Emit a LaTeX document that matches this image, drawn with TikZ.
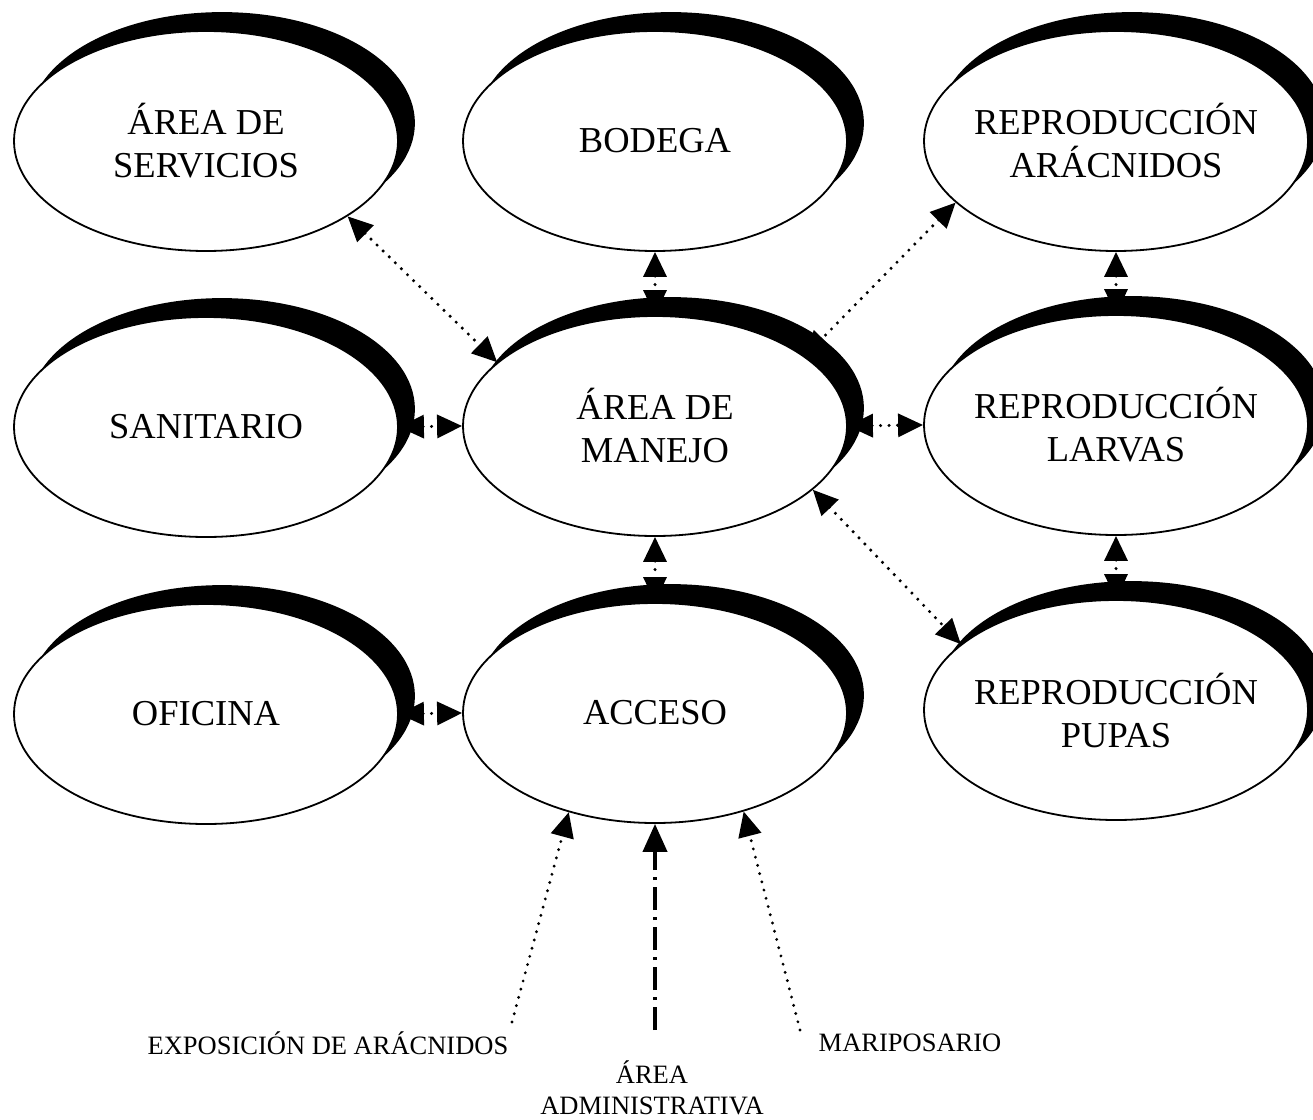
\documentclass[tikz,border=0pt]{standalone}
\usepackage{fontspec}
\setmainfont{Liberation Serif}
\usetikzlibrary{arrows.meta,shapes.geometric}
\begin{document}
\begin{tikzpicture}[x=1pt,y=-1pt,
  ell/.style={ellipse, draw=black, fill=white, line width=1.8pt, minimum width=384pt, minimum height=220pt, inner sep=0pt},
  shd/.style={ellipse, draw=black, fill=black, line width=1.8pt, minimum width=384pt, minimum height=220pt, inner sep=0pt, xshift=16pt, yshift=18pt},
  lbl/.style={font=\fontsize{36.5}{43}\selectfont, align=center, inner sep=0pt},
  small/.style={font=\fontsize{26.5}{31}\selectfont, align=center, inner sep=0pt},
  con/.style={line width=3.4pt, dash pattern=on 0pt off 8.5pt, line cap=round, {Triangle[length=25pt,width=23pt]}-{Triangle[length=25pt,width=23pt]}},
  one/.style={line width=3.2pt, dash pattern=on 0pt off 8.5pt, line cap=round, -{Triangle[length=25pt,width=23pt]}},
  adm/.style={line width=4pt, dash pattern=on 23pt off 7pt on 3pt off 7pt, -{Triangle[length=28pt,width=24pt]}}
]
\clip (0,0) rectangle (1313,1119);
\fill[white] (0,0) rectangle (1313,1119);

% ellipses with crescent shadows
\node[shd] (servicios-s) at (206,141) {};
\node[ell] (servicios) at (206,141) {};
\node[lbl] (servicios-t) at (servicios) {ÁREA DE\\SERVICIOS};

\node[shd] (bodega-s) at (655,141) {};
\node[ell] (bodega) at (655,141) {};
\node[lbl] (bodega-t) at (bodega) {BODEGA};

\node[shd] (aracnidos-s) at (1116,141) {};
\node[ell] (aracnidos) at (1116,141) {};
\node[lbl] (aracnidos-t) at (aracnidos) {REPRODUCCIÓN\\ARÁCNIDOS};

\node[shd] (sanitario-s) at (206,427) {};
\node[ell] (sanitario) at (206,427) {};
\node[lbl] (sanitario-t) at (sanitario) {SANITARIO};

\node[shd] (manejo-s) at (655,426) {};
\node[ell] (manejo) at (655,426) {};
\node[lbl] (manejo-t) at (manejo) {ÁREA DE\\MANEJO};

\node[shd] (larvas-s) at (1116,425) {};
\node[ell] (larvas) at (1116,425) {};
\node[lbl] (larvas-t) at (larvas) {REPRODUCCIÓN\\LARVAS};

\node[shd] (oficina-s) at (206,714) {};
\node[ell] (oficina) at (206,714) {};
\node[lbl] (oficina-t) at (oficina) {OFICINA};

\node[shd] (acceso-s) at (655,713) {};
\node[ell] (acceso) at (655,713) {};
\node[lbl] (acceso-t) at (acceso) {ACCESO};

\node[shd] (pupas-s) at (1116,710) {};
\node[ell] (pupas) at (1116,710) {};
\node[lbl] (pupas-t) at (pupas) {REPRODUCCIÓN\\PUPAS};

% connectors
\draw[con] (servicios.-28) -- (manejo.158);
\draw[con] (bodega.south) -- (manejo.north);
\draw[con] (aracnidos.201) -- (manejo.25);
\draw[con] (sanitario.east) -- (manejo.west);
\draw[con] (manejo.east) -- (larvas.west);
\draw[con] (aracnidos.south) -- (larvas.north);
\draw[con] (manejo.-22) -- (pupas.157);
\draw[con] (manejo.south) -- (acceso.north);
\draw[con] (larvas.south) -- (pupas.north);
\draw[con] (oficina.east) -- (acceso.west);

% incoming connectors
\node[small] (expo) at (328,1043) {EXPOSICIÓN DE ARÁCNIDOS};
\node[small] (admin) at (652,1088) {ÁREA\\ADMINISTRATIVA};
\node[small] (mari) at (910,1043) {MARIPOSARIO};
\coordinate (expo-end) at (512,1022);
\coordinate (adm-end) at (655,1030);
\coordinate (mari-end) at (800,1030);
\draw[one] (expo-end) -- (acceso.229);
\draw[adm] (adm-end) -- (acceso.south);
\draw[one] (mari-end) -- (acceso.-48);
\end{tikzpicture}
\end{document}
